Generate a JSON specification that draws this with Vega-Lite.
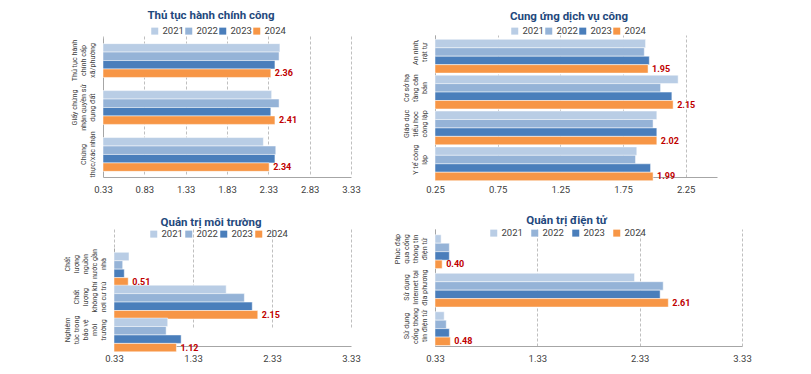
{
  "$schema": "https://vega.github.io/schema/vega-lite/v6.json",
  "background": "white",
  "padding": {"left": 70, "top": 9, "right": 5, "bottom": 5},
  "columns": 2,
  "spacing": {"row": 52, "column": 84},
  "bounds": "flush",
  "align": "each",
  "resolve": {"legend": {"color": "independent"}, "scale": {"color": "independent"}},
  "config": {
    "font": "Roboto",
    "view": {"stroke": null},
    "title": {"fontSize": 11.5, "fontWeight": "bold", "color": "#1F497D", "font": "Roboto", "frame": "group", "anchor": "middle"},
    "axisX": {"grid": true, "gridDash": [3, 2], "gridColor": "#BFBFBF", "ticks": false, "domainColor": "#A6A6A6", "labelFontSize": 9.5, "labelColor": "#404040", "labelPadding": 7, "labelFlush": false, "labelOverlap": false, "title": null, "format": ".2f"},
    "axisY": {"grid": false, "ticks": false, "domainColor": "#A6A6A6", "labelAngle": -90, "labelAlign": "center", "labelBaseline": "bottom", "labelFont": "Roboto", "labelFontSize": 7.2, "labelLineHeight": -9, "labelPadding": 7, "labelColor": "#404040", "labelExpr": "reverse(split(datum.label, '|'))", "title": null},
    "legend": {"orient": "none", "direction": "horizontal", "title": null, "symbolType": "square", "symbolSize": 49, "symbolStrokeWidth": 0, "labelFontSize": 9.5, "labelColor": "#404040", "labelOffset": 3}
  },
  "datasets": {
    "p1": [
      {"cat": "Thủ tục hành|chính cấp|xã/phường", "year": "2021", "value": 2.47},
      {"cat": "Thủ tục hành|chính cấp|xã/phường", "year": "2022", "value": 2.46},
      {"cat": "Thủ tục hành|chính cấp|xã/phường", "year": "2023", "value": 2.41},
      {"cat": "Thủ tục hành|chính cấp|xã/phường", "year": "2024", "value": 2.36},
      {"cat": "Giấy chứng|nhận quyền sử|dụng đất", "year": "2021", "value": 2.37},
      {"cat": "Giấy chứng|nhận quyền sử|dụng đất", "year": "2022", "value": 2.46},
      {"cat": "Giấy chứng|nhận quyền sử|dụng đất", "year": "2023", "value": 2.36},
      {"cat": "Giấy chứng|nhận quyền sử|dụng đất", "year": "2024", "value": 2.41},
      {"cat": "Chứng|thực/xác nhận", "year": "2021", "value": 2.27},
      {"cat": "Chứng|thực/xác nhận", "year": "2022", "value": 2.42},
      {"cat": "Chứng|thực/xác nhận", "year": "2023", "value": 2.41},
      {"cat": "Chứng|thực/xác nhận", "year": "2024", "value": 2.34}
    ],
    "p2": [
      {"cat": "An ninh,|trật tự", "year": "2021", "value": 1.93},
      {"cat": "An ninh,|trật tự", "year": "2022", "value": 1.92},
      {"cat": "An ninh,|trật tự", "year": "2023", "value": 1.96},
      {"cat": "An ninh,|trật tự", "year": "2024", "value": 1.95},
      {"cat": "Cơ sở hạ|tầng căn|bản", "year": "2021", "value": 2.19},
      {"cat": "Cơ sở hạ|tầng căn|bản", "year": "2022", "value": 2.05},
      {"cat": "Cơ sở hạ|tầng căn|bản", "year": "2023", "value": 2.14},
      {"cat": "Cơ sở hạ|tầng căn|bản", "year": "2024", "value": 2.15},
      {"cat": "Giáo dục|tiểu học|công lập", "year": "2021", "value": 2.02},
      {"cat": "Giáo dục|tiểu học|công lập", "year": "2022", "value": 1.99},
      {"cat": "Giáo dục|tiểu học|công lập", "year": "2023", "value": 2.02},
      {"cat": "Giáo dục|tiểu học|công lập", "year": "2024", "value": 2.02},
      {"cat": "Y tế công|lập", "year": "2021", "value": 1.86},
      {"cat": "Y tế công|lập", "year": "2022", "value": 1.85},
      {"cat": "Y tế công|lập", "year": "2023", "value": 1.97},
      {"cat": "Y tế công|lập", "year": "2024", "value": 1.99}
    ],
    "p3": [
      {"cat": "Chất|lượng|nguồn|nước gần|nhà", "year": "2021", "value": 0.52},
      {"cat": "Chất|lượng|nguồn|nước gần|nhà", "year": "2022", "value": 0.44},
      {"cat": "Chất|lượng|nguồn|nước gần|nhà", "year": "2023", "value": 0.46},
      {"cat": "Chất|lượng|nguồn|nước gần|nhà", "year": "2024", "value": 0.51},
      {"cat": "Chất|lượng|không khí|nơi cư trú", "year": "2021", "value": 1.75},
      {"cat": "Chất|lượng|không khí|nơi cư trú", "year": "2022", "value": 1.98},
      {"cat": "Chất|lượng|không khí|nơi cư trú", "year": "2023", "value": 2.08},
      {"cat": "Chất|lượng|không khí|nơi cư trú", "year": "2024", "value": 2.15},
      {"cat": "Nghiêm|túc trong|bảo vệ|môi|trường", "year": "2021", "value": 1.01},
      {"cat": "Nghiêm|túc trong|bảo vệ|môi|trường", "year": "2022", "value": 0.99},
      {"cat": "Nghiêm|túc trong|bảo vệ|môi|trường", "year": "2023", "value": 1.18},
      {"cat": "Nghiêm|túc trong|bảo vệ|môi|trường", "year": "2024", "value": 1.12}
    ],
    "p4": [
      {"cat": "Phúc đáp|qua cổng|thông tin|điện tử", "year": "2021", "value": 0.39},
      {"cat": "Phúc đáp|qua cổng|thông tin|điện tử", "year": "2022", "value": 0.47},
      {"cat": "Phúc đáp|qua cổng|thông tin|điện tử", "year": "2023", "value": 0.47},
      {"cat": "Phúc đáp|qua cổng|thông tin|điện tử", "year": "2024", "value": 0.40},
      {"cat": "Sử dụng|Internet tại|địa phương", "year": "2021", "value": 2.28},
      {"cat": "Sử dụng|Internet tại|địa phương", "year": "2022", "value": 2.56},
      {"cat": "Sử dụng|Internet tại|địa phương", "year": "2023", "value": 2.53},
      {"cat": "Sử dụng|Internet tại|địa phương", "year": "2024", "value": 2.61},
      {"cat": "Sử dụng|cổng thông|tin điện tử", "year": "2021", "value": 0.42},
      {"cat": "Sử dụng|cổng thông|tin điện tử", "year": "2022", "value": 0.44},
      {"cat": "Sử dụng|cổng thông|tin điện tử", "year": "2023", "value": 0.47},
      {"cat": "Sử dụng|cổng thông|tin điện tử", "year": "2024", "value": 0.48}
    ]
  },
  "concat": [
    {
      "width": 248, "height": 142,
      "data": {"name": "p1"},
      "title": {"text": "Thủ tục hành chính công", "dx": -16, "offset": 5},
      "layer": [
        {
          "mark": {"type": "bar", "stroke": "white", "strokeWidth": 0.5},
          "encoding": {
            "y": {"field": "cat", "type": "nominal", "sort": null, "scale": {"range": [3, 142], "paddingInner": 0.28, "paddingOuter": 0.12}},
            "yOffset": {"field": "year", "type": "nominal", "scale": {"paddingInner": 0, "paddingOuter": 0}},
            "x": {"field": "value", "type": "quantitative", "scale": {"domain": [0.33, 3.33], "zero": false, "nice": false}, "axis": {"values": [0.33, 0.83, 1.33, 1.83, 2.33, 2.83, 3.33]}},
            "x2": {"datum": 0.33},
            "color": {"field": "year", "type": "nominal", "scale": {"domain": ["2021", "2022", "2023", "2024"], "range": ["#B9CDE5", "#95B3D7", "#4A7EBB", "#F79646"]}, "legend": {"legendX": 47, "legendY": -9, "columnPadding": -4}}
          }
        },
        {
          "transform": [{"filter": "datum.year == '2024'"}],
          "mark": {"type": "text", "align": "left", "baseline": "middle", "dx": 4, "fontWeight": "bold", "fontSize": 9, "color": "#C00000"},
          "encoding": {
            "y": {"field": "cat", "type": "nominal", "sort": null},
            "yOffset": {"field": "year", "type": "nominal"},
            "x": {"field": "value", "type": "quantitative"},
            "text": {"field": "value", "type": "quantitative", "format": ".2f"}
          }
        }
      ]
    },
    {
      "width": 282, "height": 142,
      "data": {"name": "p2"},
      "title": {"text": "Cung ứng dịch vụ công", "dx": -7, "offset": 4},
      "layer": [
        {
          "mark": {"type": "bar", "stroke": "white", "strokeWidth": 0.5},
          "encoding": {
            "y": {"field": "cat", "type": "nominal", "sort": null, "scale": {"paddingInner": 0.28, "paddingOuter": 0.12}},
            "yOffset": {"field": "year", "type": "nominal", "scale": {"paddingInner": 0, "paddingOuter": 0}},
            "x": {"field": "value", "type": "quantitative", "scale": {"domain": [0.25, 2.5], "zero": false, "nice": false}, "axis": {"values": [0.25, 0.75, 1.25, 1.75, 2.25]}},
            "x2": {"datum": 0.25},
            "color": {"field": "year", "type": "nominal", "scale": {"domain": ["2021", "2022", "2023", "2024"], "range": ["#B9CDE5", "#95B3D7", "#4A7EBB", "#F79646"]}, "legend": {"legendX": 75, "legendY": -9, "columnPadding": -4}}
          }
        },
        {
          "transform": [{"filter": "datum.year == '2024'"}],
          "mark": {"type": "text", "align": "left", "baseline": "middle", "dx": 4, "fontWeight": "bold", "fontSize": 9, "color": "#C00000"},
          "encoding": {
            "y": {"field": "cat", "type": "nominal", "sort": null},
            "yOffset": {"field": "year", "type": "nominal"},
            "x": {"field": "value", "type": "quantitative"},
            "text": {"field": "value", "type": "quantitative", "format": ".2f"}
          }
        }
      ]
    },
    {
      "width": 248, "height": 117,
      "data": {"name": "p3"},
      "title": {"text": "Quản trị môi trường", "dx": -16, "offset": 1},
      "layer": [
        {
          "mark": {"type": "bar", "stroke": "white", "strokeWidth": 0.5},
          "encoding": {
            "y": {"field": "cat", "type": "nominal", "sort": null, "scale": {"range": [19, 117], "paddingInner": 0.28, "paddingOuter": 0.13}, "axis": {"offset": -11}},
            "yOffset": {"field": "year", "type": "nominal", "scale": {"paddingInner": 0, "paddingOuter": 0}},
            "x": {"field": "value", "type": "quantitative", "scale": {"domain": [0.33, 3.33], "zero": false, "nice": false, "range": [11, 248]}, "axis": {"values": [0.33, 1.33, 2.33, 3.33]}},
            "x2": {"datum": 0.33},
            "color": {"field": "year", "type": "nominal", "scale": {"domain": ["2021", "2022", "2023", "2024"], "range": ["#B9CDE5", "#95B3D7", "#4A7EBB", "#F79646"]}, "legend": {"legendX": 46, "legendY": 0, "columnPadding": 1}}
          }
        },
        {
          "transform": [{"filter": "datum.year == '2024'"}],
          "mark": {"type": "text", "align": "left", "baseline": "middle", "dx": 4, "fontWeight": "bold", "fontSize": 9, "color": "#C00000"},
          "encoding": {
            "y": {"field": "cat", "type": "nominal", "sort": null},
            "yOffset": {"field": "year", "type": "nominal"},
            "x": {"field": "value", "type": "quantitative"},
            "text": {"field": "value", "type": "quantitative", "format": ".2f"}
          }
        }
      ]
    },
    {
      "width": 307, "height": 117,
      "data": {"name": "p4"},
      "title": {"text": "Quản trị điện tử", "dx": -22, "offset": 2},
      "layer": [
        {
          "mark": {"type": "bar", "stroke": "white", "strokeWidth": 0.5},
          "encoding": {
            "y": {"field": "cat", "type": "nominal", "sort": null, "scale": {"paddingInner": 0.26, "paddingOuter": 0.15}},
            "yOffset": {"field": "year", "type": "nominal", "scale": {"paddingInner": 0, "paddingOuter": 0}},
            "x": {"field": "value", "type": "quantitative", "scale": {"domain": [0.33, 3.33], "zero": false, "nice": false}, "axis": {"values": [0.33, 1.33, 2.33, 3.33]}},
            "x2": {"datum": 0.33},
            "color": {"field": "year", "type": "nominal", "scale": {"domain": ["2021", "2022", "2023", "2024"], "range": ["#B9CDE5", "#95B3D7", "#4A7EBB", "#F79646"]}, "legend": {"legendX": 54, "legendY": -1, "columnPadding": 7}}
          }
        },
        {
          "transform": [{"filter": "datum.year == '2024'"}],
          "mark": {"type": "text", "align": "left", "baseline": "middle", "dx": 4, "fontWeight": "bold", "fontSize": 9, "color": "#C00000"},
          "encoding": {
            "y": {"field": "cat", "type": "nominal", "sort": null},
            "yOffset": {"field": "year", "type": "nominal"},
            "x": {"field": "value", "type": "quantitative"},
            "text": {"field": "value", "type": "quantitative", "format": ".2f"}
          }
        }
      ]
    }
  ]
}
